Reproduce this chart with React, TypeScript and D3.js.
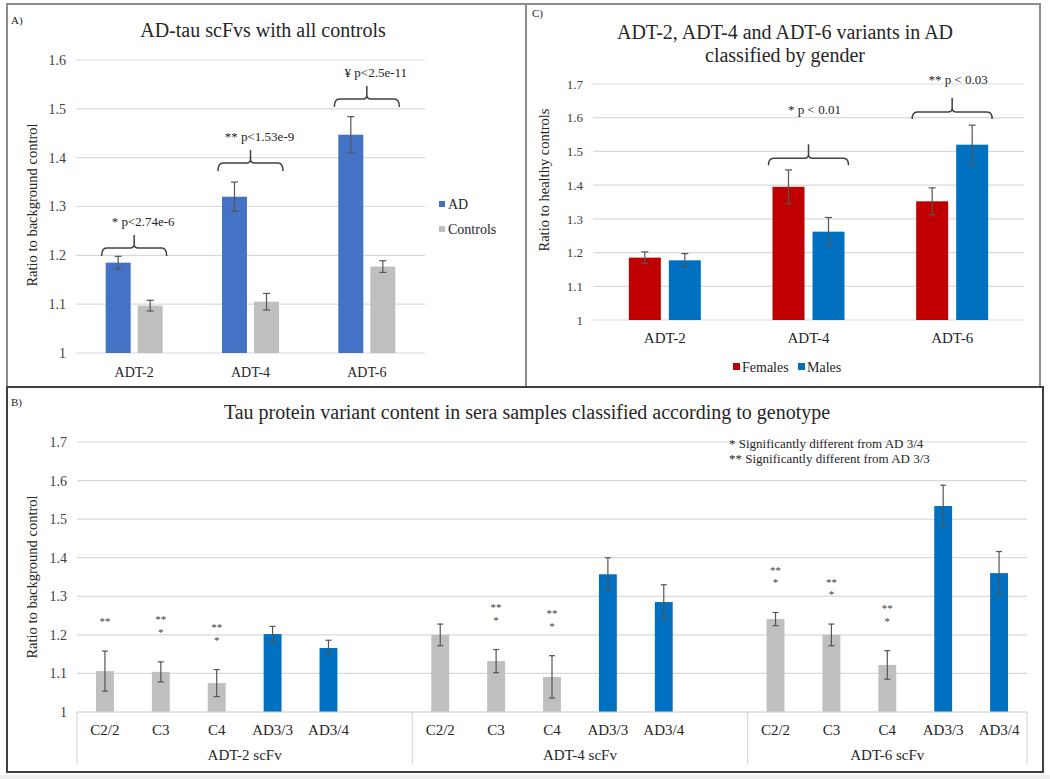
import React, { useEffect, useRef } from 'react';
import * as d3 from 'd3';

// ---- panel A: AD-tau scFvs with all controls
const aCategories = ['ADT-2', 'ADT-4', 'ADT-6'];
const aSeries = ['AD', 'Controls'];
const aAD = [1.185, 1.32, 1.447];
const aADErr = [0.013, 0.03, 0.037];
const aControls = [1.097, 1.105, 1.177];
const aControlsErr = [0.011, 0.017, 0.012];
const aTicks = [1, 1.1, 1.2, 1.3, 1.4, 1.5, 1.6];
const aPLabels = ['* p<2.74e-6', '** p<1.53e-9', '\u00a5 p<2.5e-11'];
const aBracketLevels = [1.215, 1.389, 1.52];

// ---- panel C: by gender
const cCategories = ['ADT-2', 'ADT-4', 'ADT-6'];
const cSeries = ['Females', 'Males'];
const cFemales = [1.185, 1.395, 1.352];
const cFemalesErr = [0.017, 0.05, 0.04];
const cMales = [1.177, 1.262, 1.52];
const cMalesErr = [0.02, 0.042, 0.058];
const cTicks = [1, 1.1, 1.2, 1.3, 1.4, 1.5, 1.6, 1.7];
const cPLabels = ['', '* p < 0.01', '** p < 0.03'];
const cBracketLevels = [0, 1.48, 1.617];
const cLabelLevels = [0, 1.61, 1.7];

// ---- panel B: by genotype
const bGroups = ['ADT-2 scFv', 'ADT-4  scFv', 'ADT-6 scFv'];
const bGenotypes = ['C2/2', 'C3', 'C4', 'AD3/3', 'AD3/4'];
const bADT2 = [1.106, 1.104, 1.075, 1.202, 1.166];
const bADT2Err = [0.052, 0.026, 0.035, 0.02, 0.02];
const bADT4 = [1.2, 1.132, 1.091, 1.357, 1.285];
const bADT4Err = [0.028, 0.03, 0.055, 0.043, 0.045];
const bADT6 = [1.241, 1.2, 1.122, 1.534, 1.36];
const bADT6Err = [0.017, 0.028, 0.037, 0.054, 0.056];
const bADT2Marks = [['**'], ['**', '*'], ['**', '*'], [], []];
const bADT4Marks = [[], ['**', '*'], ['**', '*'], [], []];
const bADT6Marks = [['**', '*'], ['**', '*'], ['**', '*'], [], []];
const bTicks = [1, 1.1, 1.2, 1.3, 1.4, 1.5, 1.6, 1.7];
const bNotes = ['* Significantly  different from AD 3/4', '** Significantly  different from AD 3/3'];

const FONT = 'Liberation Serif, Tinos, serif';
const GRID = '#d9d9d9';
const ERR = '#555555';
const TXT = '#262626';

const fmt = (d: number) => (d === 1 ? '1' : d3.format('.1f')(d));

function errorBar(g: any, x: number, yTop: number, yBot: number, cap = 3.5) {
  g.append('line').attr('x1', x).attr('x2', x).attr('y1', yTop).attr('y2', yBot)
    .attr('stroke', ERR).attr('stroke-width', 1.2);
  [yTop, yBot].forEach(y => {
    g.append('line').attr('x1', x - cap).attr('x2', x + cap).attr('y1', y).attr('y2', y)
      .attr('stroke', ERR).attr('stroke-width', 1.2);
  });
}

function bracket(g: any, x1: number, x2: number, y: number, drop = 8, tick = 13) {
  const xm = (x1 + x2) / 2;
  const p = `M${x1},${y + drop} Q${x1},${y} ${x1 + 5},${y} L${xm - 4},${y} Q${xm},${y} ${xm},${y - 4} L${xm},${y - tick}` +
    ` M${xm},${y - 4} Q${xm},${y} ${xm + 4},${y} L${x2 - 5},${y} Q${x2},${y} ${x2},${y + drop}`;
  g.append('path').attr('d', p).attr('fill', 'none').attr('stroke', '#404040').attr('stroke-width', 1.5);
}

function yAxis(g: any, y: any, ticks: number[], x0: number, x1: number, fs: number) {
  g.append('g').selectAll('line').data(ticks).join('line')
    .attr('x1', x0).attr('x2', x1)
    .attr('y1', (d: number) => y(d)).attr('y2', (d: number) => y(d))
    .attr('stroke', GRID).attr('stroke-width', 1.2);
  const ax = g.append('g').attr('transform', `translate(${x0},0)`)
    .call(d3.axisLeft(y).tickValues(ticks).tickSize(0).tickPadding(10).tickFormat(fmt as any));
  ax.select('.domain').remove();
  ax.attr('font-family', null);
  ax.selectAll('text').style('font-family', FONT).attr('font-size', fs).attr('fill', '#404040');
}

const App = () => {
  const svgRef = useRef<SVGSVGElement>(null);

  useEffect(() => {
    const svg = d3.select(svgRef.current);
    svg.selectAll('*').remove();

    svg.append('rect').attr('width', 1050).attr('height', 779).attr('fill', '#ffffff');
    svg.append('rect').attr('x', 0).attr('y', 775).attr('width', 1050).attr('height', 4).attr('fill', '#efefef');

    // panel frames
    svg.append('rect').attr('x', 7).attr('y', 4).attr('width', 519).attr('height', 383)
      .attr('fill', 'none').attr('stroke', '#8c8c8c').attr('stroke-width', 2);
    svg.append('rect').attr('x', 526).attr('y', 4).attr('width', 514).attr('height', 383)
      .attr('fill', 'none').attr('stroke', '#8c8c8c').attr('stroke-width', 2);
    svg.append('rect').attr('x', 7).attr('y', 387).attr('width', 1036).attr('height', 385)
      .attr('fill', 'none').attr('stroke', '#404040').attr('stroke-width', 2);

    const text = (x: number, y: number, s: string, fs: number, anchor = 'middle', fill = TXT) =>
      svg.append('text').attr('x', x).attr('y', y).attr('text-anchor', anchor)
        .style('font-family', FONT).attr('font-size', fs).attr('fill', fill).text(s);

    const yLabel = (x: number, y: number, s: string) =>
      svg.append('text').attr('transform', `translate(${x},${y}) rotate(-90)`).attr('text-anchor', 'middle')
        .style('font-family', FONT).attr('font-size', 14.5).attr('fill', TXT).text(s);

    // ================= Panel A =================
    {
      const g = svg.append('g');
      const y = d3.scaleLinear().domain([1, 1.6]).range([353, 60]);
      const x0 = d3.scaleBand().domain(aCategories).range([76, 425]);
      const x1 = d3.scaleBand().domain(aSeries).range([0, 57]).paddingInner(0.22);
      const colors: Record<string, string> = { AD: '#4472c4', Controls: '#bfbfbf' };
      yAxis(g, y, aTicks, 76, 425, 14);

      const rows = aCategories.flatMap((c, i) => [
        { c, s: 'AD', v: aAD[i], e: aADErr[i] },
        { c, s: 'Controls', v: aControls[i], e: aControlsErr[i] },
      ]);
      const off = (x0.bandwidth() - 57) / 2;
      const bx = (d: any) => (x0(d.c) as number) + off + (x1(d.s) as number);
      g.append('g').selectAll('rect').data(rows).join('rect')
        .attr('x', bx).attr('width', x1.bandwidth())
        .attr('y', d => y(d.v)).attr('height', d => y(1) - y(d.v))
        .attr('fill', d => colors[d.s]);
      rows.forEach(d => errorBar(g, bx(d) + x1.bandwidth() / 2, y(d.v + d.e), y(d.v - d.e)));

      const xa = g.append('g').attr('transform', 'translate(0,353)')
        .call(d3.axisBottom(x0).tickSize(0).tickPadding(14));
      xa.select('.domain').remove();
      xa.selectAll('text').style('font-family', FONT).attr('font-size', 14).attr('fill', TXT);

      aCategories.forEach((c, i) => {
        const left = (x0(c) as number) + off - 4;
        const right = (x0(c) as number) + off + 57 + 4;
        const by = y(aBracketLevels[i]);
        bracket(g, left, right, by);
        text((left + right) / 2 + 9, by - 22, aPLabels[i], 13);
      });

      // legend
      aSeries.forEach((s, i) => {
        g.append('rect').attr('x', 439).attr('y', 201 + i * 25).attr('width', 6).attr('height', 6).attr('fill', colors[s]);
        text(448, 209 + i * 25, s, 14, 'start');
      });

      text(263, 37, 'AD-tau  scFvs with all  controls', 20);
      text(11, 24, 'A)', 11, 'start');
      yLabel(37, 205, 'Ratio to background control');
    }

    // ================= Panel C =================
    {
      const g = svg.append('g');
      const y = d3.scaleLinear().domain([1, 1.7]).range([320, 84]);
      const x0 = d3.scaleBand().domain(cCategories).range([593, 1024]);
      const x1 = d3.scaleBand().domain(cSeries).range([0, 72]).paddingInner(0.2);
      const colors: Record<string, string> = { Females: '#c00000', Males: '#0070c0' };
      yAxis(g, y, cTicks, 593, 1024, 13);

      const rows = cCategories.flatMap((c, i) => [
        { c, s: 'Females', v: cFemales[i], e: cFemalesErr[i] },
        { c, s: 'Males', v: cMales[i], e: cMalesErr[i] },
      ]);
      const off = (x0.bandwidth() - 72) / 2;
      const bx = (d: any) => (x0(d.c) as number) + off + (x1(d.s) as number);
      g.append('g').selectAll('rect').data(rows).join('rect')
        .attr('x', bx).attr('width', x1.bandwidth())
        .attr('y', d => y(d.v)).attr('height', d => y(1) - y(d.v))
        .attr('fill', d => colors[d.s]);
      rows.forEach(d => errorBar(g, bx(d) + x1.bandwidth() / 2, y(d.v + d.e), y(d.v - d.e)));

      const xa = g.append('g').attr('transform', 'translate(0,320)')
        .call(d3.axisBottom(x0).tickSize(0).tickPadding(12));
      xa.select('.domain').remove();
      xa.selectAll('text').style('font-family', FONT).attr('font-size', 15).attr('fill', TXT);

      cCategories.forEach((c, i) => {
        if (!cPLabels[i]) return;
        const left = (x0(c) as number) + off - 4;
        const right = (x0(c) as number) + off + 72 + 4;
        const by = y(cBracketLevels[i]);
        bracket(g, left, right, by, 7, 14);
        text((left + right) / 2 + 6, y(cLabelLevels[i]), cPLabels[i], 13);
      });

      cSeries.forEach((s, i) => {
        const lx = 733 + i * 65;
        g.append('rect').attr('x', lx).attr('y', 363).attr('width', 7).attr('height', 7).attr('fill', colors[s]);
        text(lx + 9, 372, s, 14, 'start');
      });

      text(785, 39, 'ADT-2, ADT-4 and ADT-6 variants in AD', 20);
      text(785, 62, 'classified by gender', 20);
      text(532, 17, 'C)', 11, 'start');
      yLabel(549, 180, 'Ratio to healthy controls');
    }

    // ================= Panel B =================
    {
      const g = svg.append('g');
      const y = d3.scaleLinear().domain([1, 1.7]).range([712, 442]);
      const groupValues = [bADT2, bADT4, bADT6];
      const groupErrs = [bADT2Err, bADT4Err, bADT6Err];
      const groupMarks = [bADT2Marks, bADT4Marks, bADT6Marks];

      // slots: five genotypes per group plus an empty slot between groups
      const slots: string[] = [];
      bGroups.forEach((gr, gi) => {
        bGenotypes.forEach(gt => slots.push(`${gi}|${gt}`));
        if (gi < bGroups.length - 1) slots.push(`${gi}|`);
      });
      const x = d3.scaleBand().domain(slots).range([77, 1027]);
      const bw = x.bandwidth() * 0.32;
      yAxis(g, y, bTicks, 77, 1027, 14);

      const rows = bGroups.flatMap((gr, gi) => bGenotypes.map((gt, k) => ({
        key: `${gi}|${gt}`, gt, v: groupValues[gi][k], e: groupErrs[gi][k], m: groupMarks[gi][k],
      })));
      const cx = (d: any) => (x(d.key) as number) + x.bandwidth() / 2;
      g.append('g').selectAll('rect').data(rows).join('rect')
        .attr('x', d => cx(d) - bw / 2).attr('width', bw)
        .attr('y', d => y(d.v)).attr('height', d => y(1) - y(d.v))
        .attr('fill', d => (d.gt.startsWith('AD') ? '#0070c0' : '#bfbfbf'));
      rows.forEach(d => errorBar(g, cx(d), y(d.v + d.e), y(d.v - d.e), 3));

      // significance stars, stacked above the error bar
      const lineGap = 12.5;
      rows.forEach(d => {
        if (!d.m.length) return;
        const top = y(d.v + d.e);
        const first = top - 32 - (d.m.length - 1) * lineGap + 6;
        const t = g.append('text').attr('text-anchor', 'middle').style('font-family', FONT)
          .attr('font-size', 11).attr('fill', '#404040');
        d.m.forEach((s: string, j: number) => {
          t.append('tspan').attr('x', cx(d)).attr('y', first + j * lineGap).text(s);
        });
      });

      // multi-level category axis
      g.append('line').attr('x1', 77).attr('x2', 1027).attr('y1', 712).attr('y2', 712)
        .attr('stroke', GRID).attr('stroke-width', 1.2);
      const bounds = [0, 6, 12, 17].map(i => 77 + i * x.step());
      bounds.forEach(bx => {
        g.append('line').attr('x1', bx).attr('x2', bx).attr('y1', 712).attr('y2', 765)
          .attr('stroke', GRID).attr('stroke-width', 1.2);
      });
      rows.forEach(d => text(cx(d), 735, d.gt, 15));
      bGroups.forEach((gr, gi) => text((bounds[gi] + bounds[gi + 1]) / 2, 760, gr, 15));

      bNotes.forEach((s, i) => text(729, 448 + i * 15, s, 13, 'start'));

      text(527, 419, 'Tau protein  variant  content in  sera samples classified according to genotype', 20);
      text(11, 406, 'B)', 11, 'start');
      yLabel(37, 577, 'Ratio to background control');
    }
  }, []);

  return (
    <div>
      <svg ref={svgRef} width={1050} height={779} fontFamily="Liberation Serif, serif"
        style={{ position: 'absolute', left: 0, top: 0, display: 'block' }}></svg>
    </div>
  );
};

export default App;
